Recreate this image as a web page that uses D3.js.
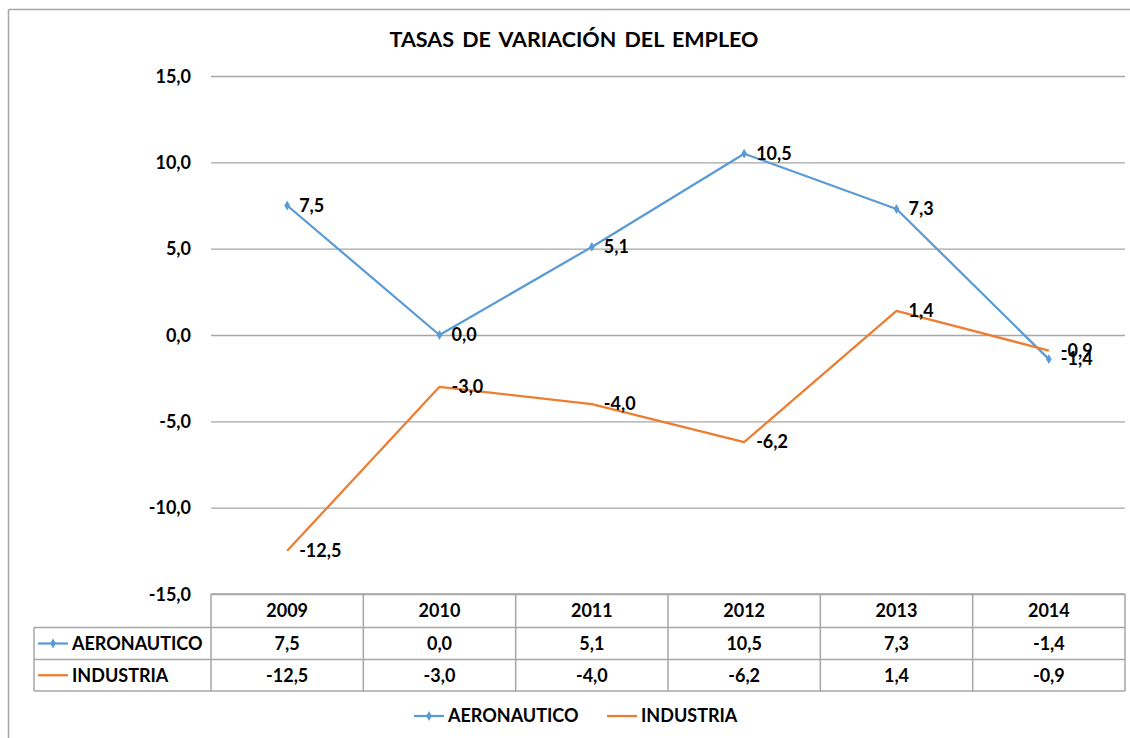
<!DOCTYPE html>
<html><head><meta charset="utf-8">
<script src="https://cdn.jsdelivr.net/npm/d3@7"></script>
<style>
html,body{margin:0;padding:0;background:#fff;}
svg{display:block;}
text{font-family:Lato,"Open Sans",sans-serif;font-weight:bold;fill:#000;}
</style></head>
<body>
<script>
const years = ["2009","2010","2011","2012","2013","2014"];
const aeronautico = [7.5, 0.0, 5.1, 10.5, 7.3, -1.4];
const industria = [-12.5, -3.0, -4.0, -6.2, 1.4, -0.9];
const seriesNames = ["AERONAUTICO","INDUSTRIA"];
const yTicks = [15, 10, 5, 0, -5, -10, -15];
const chartTitle = "TASAS DE VARIACIÓN DEL EMPLEO";

(function(){
const W = 1130, H = 738;
const colors = {AERONAUTICO:"#5B9BD5", INDUSTRIA:"#ED7D31"};
const fmt = v => d3.format(".1f")(v).replace(".", ",").replace("−","-");

const svg = d3.select("body").append("svg").attr("width", W).attr("height", H);

// outer frame
svg.append("line").attr("x1",8.5).attr("x2",W).attr("y1",9.5).attr("y2",9.5).attr("stroke","#a6a6a6").attr("stroke-width",1.5);
svg.append("line").attr("x1",8.5).attr("x2",8.5).attr("y1",9.5).attr("y2",H).attr("stroke","#a6a6a6").attr("stroke-width",1.5);

const pLeft = 211, pRight = 1125, pTop = 76, pBottom = 594;
const x = d3.scaleBand().domain(years).range([pLeft, pRight]);
const y = d3.scaleLinear().domain([-15, 15]).range([pBottom, pTop]);

// title
svg.append("text").attr("x", 574).attr("y", 47).attr("text-anchor","middle")
  .style("font-size","21.5px").style("word-spacing","3px").text(chartTitle);

// gridlines
const yAxis = d3.axisLeft(y).tickValues(yTicks).tickSize(-(pRight-pLeft)).tickFormat(fmt).tickPadding(20);
const gy = svg.append("g").attr("transform",`translate(${pLeft},0)`).call(yAxis);
gy.select(".domain").remove();
gy.selectAll(".tick line").attr("stroke","#a6a6a6").attr("stroke-width",1.3);
gy.selectAll(".tick text").style("font-size","18px").style("font-family","Lato").style("font-weight","bold").attr("fill","#000").attr("dy","0.35em");

// lines
const line = d3.line().x((d,i)=>x(years[i])+x.bandwidth()/2).y(d=>y(d));
const data = {AERONAUTICO: aeronautico, INDUSTRIA: industria};
seriesNames.forEach(name=>{
  const vals = data[name];
  svg.append("path").datum(vals).attr("d", line).attr("fill","none")
    .attr("stroke", colors[name]).attr("stroke-width",2.25).attr("stroke-linejoin","round");
  if (name === "AERONAUTICO") {
    svg.selectAll(null).data(vals).enter().append("path")
      .attr("d", d3.symbol().type(d3.symbolDiamond).size(28))
      .attr("transform",(d,i)=>`translate(${x(years[i])+x.bandwidth()/2},${y(d)})`)
      .attr("fill", colors[name]);
  }
  svg.selectAll(null).data(vals).enter().append("text")
    .attr("x",(d,i)=>x(years[i])+x.bandwidth()/2+12)
    .attr("y",d=>y(d)).attr("dy","0.35em")
    .style("font-size","18px").text(d=>fmt(d));
});

// data table
const rowTop = [594, 627.5, 659.5, 691];
const labelLeft = 34;
const g = svg.append("g");
const gridColor = "#a6a6a6";
g.append("line").attr("x1",pLeft).attr("x2",pRight).attr("y1",rowTop[0]).attr("y2",rowTop[0]).attr("stroke",gridColor).attr("stroke-width",1.5);
[1,2,3].forEach(k=>{
  g.append("line").attr("x1",labelLeft).attr("x2",pRight).attr("y1",rowTop[k]).attr("y2",rowTop[k]).attr("stroke",gridColor).attr("stroke-width",1.5);
});
g.append("line").attr("x1",labelLeft).attr("x2",labelLeft).attr("y1",rowTop[1]).attr("y2",rowTop[3]).attr("stroke",gridColor).attr("stroke-width",1.5);
const colEdges = years.map(yr=>x(yr)).concat([pRight]);
colEdges.forEach(cx=>{
  g.append("line").attr("x1",cx).attr("x2",cx).attr("y1",rowTop[0]).attr("y2",rowTop[3]).attr("stroke",gridColor).attr("stroke-width",1.5);
});
g.selectAll(null).data(years).enter().append("text")
  .attr("x",d=>x(d)+x.bandwidth()/2).attr("y",(rowTop[0]+rowTop[1])/2).attr("dy","0.35em")
  .attr("text-anchor","middle").style("font-size","18px").text(d=>d);
seriesNames.forEach((name,k)=>{
  const cy = (rowTop[k+1]+rowTop[k+2])/2;
  g.append("line").attr("x1",38).attr("x2",68).attr("y1",cy).attr("y2",cy).attr("stroke",colors[name]).attr("stroke-width",2.25);
  if (name==="AERONAUTICO") g.append("path").attr("d",d3.symbol().type(d3.symbolDiamond).size(28)).attr("transform",`translate(53,${cy})`).attr("fill",colors[name]);
  g.append("text").attr("x",72).attr("y",cy).attr("dy","0.35em").style("font-size","18px").text(name);
  g.selectAll(null).data(data[name]).enter().append("text")
    .attr("x",(d,i)=>x(years[i])+x.bandwidth()/2).attr("y",cy).attr("dy","0.35em")
    .attr("text-anchor","middle").style("font-size","18px").text(d=>fmt(d));
});

// legend
const legY = 716;
const legItems = [{name:"AERONAUTICO", x0:414},{name:"INDUSTRIA", x0:607}];
legItems.forEach(it=>{
  svg.append("line").attr("x1",it.x0).attr("x2",it.x0+30).attr("y1",legY).attr("y2",legY).attr("stroke",colors[it.name]).attr("stroke-width",2.25);
  if (it.name==="AERONAUTICO") svg.append("path").attr("d",d3.symbol().type(d3.symbolDiamond).size(28)).attr("transform",`translate(${it.x0+15},${legY})`).attr("fill",colors[it.name]);
  svg.append("text").attr("x",it.x0+34).attr("y",legY).attr("dy","0.35em").style("font-size","18px").text(it.name);
});
})();
</script>
</body></html>
